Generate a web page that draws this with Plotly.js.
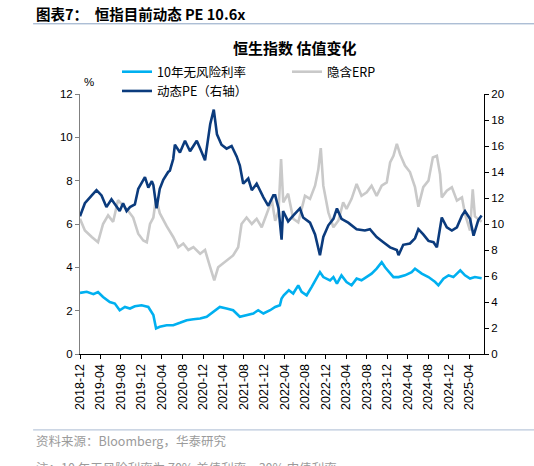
<!DOCTYPE html>
<html>
<head>
<meta charset="utf-8">
<script src="https://cdn.plot.ly/plotly-3.0.1.min.js"></script>
<style>
  html, body { margin: 0; padding: 0; background: #fff; }
  #chart { width: 534px; height: 466px; }
</style>
</head>
<body>
<div id="chart"></div>
<script>
// 10年无风险利率 (%), left axis
const rfDates = [
  '2018-12-01', '2019-01-10', '2019-02-19', '2019-03-18', '2019-04-17', '2019-05-27',
  '2019-06-26', '2019-07-25', '2019-08-25', '2019-09-24', '2019-10-23', '2019-12-02',
  '2020-01-11', '2020-02-10', '2020-02-26', '2020-03-19', '2020-04-29', '2020-06-07',
  '2020-07-17', '2020-08-26', '2020-10-05', '2020-11-14', '2020-12-23', '2021-02-02',
  '2021-03-11', '2021-04-20', '2021-05-29', '2021-07-08', '2021-08-17', '2021-09-26',
  '2021-10-25', '2021-11-25', '2022-01-04', '2022-02-03', '2022-03-03', '2022-03-13',
  '2022-03-26', '2022-04-25', '2022-05-21', '2022-06-20', '2022-07-10', '2022-08-09',
  '2022-09-08', '2022-10-08', '2022-10-27', '2022-11-16', '2022-12-06', '2022-12-26',
  '2023-01-15', '2023-02-05', '2023-03-04', '2023-04-03', '2023-05-03', '2023-06-02',
  '2023-07-01', '2023-08-01', '2023-08-30', '2023-09-29', '2023-10-29', '2023-11-18',
  '2023-12-18', '2024-01-07', '2024-02-06', '2024-03-15', '2024-04-24', '2024-05-14',
  '2024-06-23', '2024-08-02', '2024-09-11', '2024-09-30', '2024-10-30', '2024-11-29',
  '2024-12-28', '2025-02-07', '2025-03-07', '2025-04-06', '2025-05-05', '2025-06-14'
];
const rfValues = [
  2.82, 2.87, 2.76, 2.86, 2.63, 2.40,
  2.33, 2.02, 2.17, 2.10, 2.20, 2.25,
  2.17, 1.80, 1.18, 1.26, 1.33, 1.33,
  1.44, 1.56, 1.60, 1.64, 1.72, 1.95,
  2.17, 2.10, 2.02, 1.72, 1.80, 1.87,
  2.02, 1.87, 2.02, 2.17, 2.25, 2.56,
  2.71, 2.94, 2.79, 3.17, 2.87, 2.71,
  3.10, 3.48, 3.78, 3.55, 3.48, 3.40,
  3.55, 3.25, 3.63, 3.32, 3.17, 3.48,
  3.40, 3.55, 3.71, 3.94, 4.24, 4.00,
  3.71, 3.55, 3.55, 3.63, 3.78, 3.94,
  3.71, 3.55, 3.32, 3.17, 3.48, 3.63,
  3.55, 3.86, 3.63, 3.48, 3.55, 3.50
];

// 隐含ERP (%), left axis
const erpDates = [
  '2018-12-01', '2018-12-30', '2019-02-09', '2019-03-18', '2019-04-17', '2019-05-17',
  '2019-06-16', '2019-07-15', '2019-08-14', '2019-09-14', '2019-10-13', '2019-11-12',
  '2019-12-12', '2020-01-02', '2020-01-21', '2020-02-10', '2020-02-26', '2020-03-19',
  '2020-04-29', '2020-06-07', '2020-07-07', '2020-08-06', '2020-09-05', '2020-10-05',
  '2020-11-14', '2020-12-13', '2021-01-13', '2021-02-06', '2021-03-01', '2021-03-31',
  '2021-04-30', '2021-05-29', '2021-06-28', '2021-07-18', '2021-08-17', '2021-09-17',
  '2021-10-16', '2021-11-15', '2021-12-15', '2022-01-14', '2022-02-03', '2022-02-23',
  '2022-03-10', '2022-03-23', '2022-04-21', '2022-05-21', '2022-06-20', '2022-07-30',
  '2022-08-29', '2022-09-28', '2022-10-17', '2022-11-01', '2022-11-16', '2022-12-16',
  '2023-01-15', '2023-02-14', '2023-03-14', '2023-04-03', '2023-05-03', '2023-06-02',
  '2023-07-01', '2023-08-01', '2023-08-30', '2023-09-29', '2023-10-29', '2023-11-28',
  '2023-12-18', '2024-01-07', '2024-01-27', '2024-02-16', '2024-03-15', '2024-04-14',
  '2024-05-14', '2024-06-03', '2024-07-02', '2024-08-02', '2024-08-28', '2024-09-21',
  '2024-10-10', '2024-10-20', '2024-11-19', '2024-12-19', '2025-01-18', '2025-02-17',
  '2025-03-07', '2025-04-06', '2025-04-22', '2025-05-05', '2025-06-14'
];
const erpValues = [
  6.24, 5.70, 5.40, 5.16, 6.00, 6.40,
  6.10, 7.10, 6.85, 6.60, 6.30, 5.55,
  5.24, 5.16, 6.00, 6.30, 7.20, 6.50,
  5.90, 5.40, 4.93, 5.10, 4.80, 4.93,
  4.63, 4.80, 4.00, 3.40, 4.00, 4.20,
  4.40, 4.55, 4.93, 6.00, 6.30, 6.00,
  6.24, 5.85, 6.47, 7.10, 6.15, 6.60,
  9.00, 7.00, 7.40, 6.24, 6.08, 7.30,
  7.16, 7.77, 8.50, 9.50, 7.77, 6.54,
  5.85, 6.16, 7.00, 6.70, 7.16, 7.85,
  7.30, 7.46, 7.77, 7.30, 7.77, 7.92,
  8.84, 9.15, 9.70, 9.20, 8.70, 8.40,
  7.70, 6.80, 7.70, 8.00, 9.07, 9.15,
  8.30, 7.23, 7.54, 7.70, 7.08, 7.23,
  6.47, 5.70, 7.60, 6.35, 6.10
];

// 动态PE (x), right axis
const peDates = [
  '2018-12-01', '2018-12-30', '2019-02-09', '2019-03-09', '2019-04-08', '2019-05-07',
  '2019-06-06', '2019-07-06', '2019-07-25', '2019-08-14', '2019-09-04', '2019-09-24',
  '2019-10-23', '2019-11-12', '2019-12-02', '2019-12-22', '2020-01-11', '2020-02-01',
  '2020-02-10', '2020-02-29', '2020-03-19', '2020-04-09', '2020-05-08', '2020-05-18',
  '2020-06-07', '2020-06-17', '2020-07-17', '2020-08-16', '2020-09-15', '2020-10-25',
  '2020-11-14', '2020-12-13', '2021-01-13', '2021-02-03', '2021-02-22', '2021-03-21',
  '2021-04-20', '2021-05-20', '2021-06-19', '2021-07-08', '2021-07-28', '2021-08-27',
  '2021-09-17', '2021-10-16', '2021-11-25', '2021-12-24', '2022-01-23', '2022-02-03',
  '2022-02-23', '2022-03-13', '2022-03-22', '2022-04-21', '2022-05-21', '2022-06-30',
  '2022-07-19', '2022-08-29', '2022-09-28', '2022-10-27', '2022-11-16', '2022-12-16',
  '2023-01-15', '2023-02-05', '2023-03-04', '2023-04-13', '2023-06-02', '2023-07-21',
  '2023-08-20', '2023-09-29', '2023-11-08', '2023-12-18', '2024-01-27', '2024-02-06',
  '2024-03-05', '2024-04-14', '2024-05-14', '2024-06-03', '2024-07-02', '2024-08-02',
  '2024-09-01', '2024-09-21', '2024-10-20', '2024-11-19', '2024-12-19', '2025-01-18',
  '2025-02-17', '2025-03-07', '2025-04-06', '2025-04-27', '2025-05-25', '2025-06-14'
];
const peValues = [
  10.6, 11.6, 12.2, 12.6, 12.2, 11.3,
  11.9, 11.4, 11.0, 11.6, 11.0, 11.3,
  11.5, 12.7, 13.2, 13.6, 12.8, 13.3,
  13.0, 11.2, 12.7, 13.4, 14.0, 14.1,
  15.0, 16.1, 15.5, 16.4, 15.6, 16.4,
  15.8, 14.9, 17.7, 18.8, 16.9, 16.1,
  15.8, 16.0, 15.2, 14.5, 13.1, 13.5,
  12.6, 13.1, 12.05, 11.4, 12.2, 12.2,
  11.2, 8.8, 11.0, 10.2, 10.65, 11.2,
  10.5, 10.1, 9.2, 7.6, 9.0, 9.9,
  10.4, 11.2, 10.4, 10.1, 9.6, 9.5,
  9.6, 9.0, 8.6, 8.2, 8.0, 7.6,
  8.4, 8.5, 8.9, 9.6, 9.2, 8.7,
  8.6, 8.2, 10.5, 9.75, 9.5, 9.75,
  10.65, 11.0, 10.4, 9.1, 10.3, 10.65
];

// x tick labels every 4 months
const tickMonths = [
  '2018-12', '2019-04', '2019-08', '2019-12', '2020-04', '2020-08', '2020-12',
  '2021-04', '2021-08', '2021-12', '2022-04', '2022-08', '2022-12', '2023-04',
  '2023-08', '2023-12', '2024-04', '2024-08', '2024-12', '2025-04'
];

const FONT = 'Liberation Sans, Arial, Noto Sans CJK SC, sans-serif';
const CJK = 'Noto Sans CJK SC, Liberation Sans, sans-serif';

const traces = [
  { type: 'scatter', mode: 'lines', x: rfDates, y: rfValues, name: '10年无风险利率',
    line: { color: '#00b0f0', width: 2.6 }, yaxis: 'y' },
  { type: 'scatter', mode: 'lines', x: erpDates, y: erpValues, name: '隐含ERP',
    line: { color: '#c9c9c9', width: 2.6 }, yaxis: 'y' },
  { type: 'scatter', mode: 'lines', x: peDates, y: peValues, name: '动态PE（右轴）',
    line: { color: '#0b3b7d', width: 2.6 }, yaxis: 'y2' },
];

const layout = {
  width: 534, height: 466,
  paper_bgcolor: '#fff', plot_bgcolor: '#fff',
  font: { family: FONT, color: '#000', size: 11 },
  margin: { l: 80, r: 50, t: 94, b: 112, autoexpand: false },
  title: {
    text: '<b>恒生指数 估值变化</b>',
    xref: 'container', yref: 'container', x: 0.552, y: 1 - 49 / 466,
    xanchor: 'center', yanchor: 'middle',
    font: { family: CJK, size: 15, color: '#000' },
  },
  showlegend: true,
  legend: {
    orientation: 'h', xref: 'paper', yref: 'paper',
    x: 0.0916, y: 1.142, xanchor: 'left', yanchor: 'top',
    entrywidth: 125, entrywidthmode: 'pixels', traceorder: 'normal',
    font: { family: CJK, size: 12.5, color: '#000' },
    bgcolor: 'rgba(0,0,0,0)',
  },
  xaxis: {
    type: 'date', range: ['2018-12-01', '2025-06-28'],
    tickvals: tickMonths.map(m => m + '-01'), ticktext: tickMonths,
    tickangle: -90, tickfont: { size: 12.5, family: FONT },
    showline: true, linecolor: '#000', linewidth: 1,
    ticks: 'outside', ticklen: 4, tickcolor: '#000',
    showgrid: false, zeroline: false,
  },
  yaxis: {
    range: [0, 12], dtick: 2, tick0: 0,
    showline: true, linecolor: '#808080', linewidth: 1,
    ticks: 'outside', ticklen: 4, tickcolor: '#808080',
    showgrid: false, zeroline: false, tickfont: { size: 11.5 },
  },
  yaxis2: {
    range: [0, 20], dtick: 2, tick0: 0, overlaying: 'y', side: 'right',
    showline: true, linecolor: '#000', linewidth: 1,
    ticks: 'outside', ticklen: 4, tickcolor: '#000',
    showgrid: false, zeroline: false, tickfont: { size: 11.5 },
  },
  shapes: [
    { type: 'line', xref: 'paper', yref: 'paper', x0: -0.116, x1: 1.13, y0: 1.27, y1: 1.27,
      line: { color: '#8aa3c4', width: 1 } },
    { type: 'line', xref: 'paper', yref: 'paper', x0: -0.116, x1: 1.13, y0: -0.292, y1: -0.292,
      line: { color: '#a9bad2', width: 1 } },
  ],
  annotations: [
    { text: '<b>图表7：  恒指目前动态 PE 10.6x</b>', xref: 'paper', yref: 'paper',
      x: -0.113, y: 1.308, xanchor: 'left', yanchor: 'middle', showarrow: false,
      font: { family: CJK, size: 14.5, color: '#000' } },
    { text: '%', xref: 'paper', yref: 'paper', x: 0.022, y: 1.046,
      xanchor: 'center', yanchor: 'middle', showarrow: false, font: { size: 11.5 } },
    { text: '资料来源：Bloomberg，华泰研究', xref: 'paper', yref: 'paper',
      x: -0.113, y: -0.332, xanchor: 'left', yanchor: 'middle', showarrow: false,
      font: { family: CJK, size: 12.5, color: '#9b9b9b' } },
    { text: '注：10 年无风险利率为 70% 美债利率，30% 中债利率', xref: 'paper', yref: 'paper',
      x: -0.113, y: -0.437, xanchor: 'left', yanchor: 'middle', showarrow: false,
      font: { family: CJK, size: 12.5, color: '#9b9b9b' } },
  ],
};

Plotly.newPlot('chart', traces, layout, { displayModeBar: false, staticPlot: true });
</script>
</body>
</html>
